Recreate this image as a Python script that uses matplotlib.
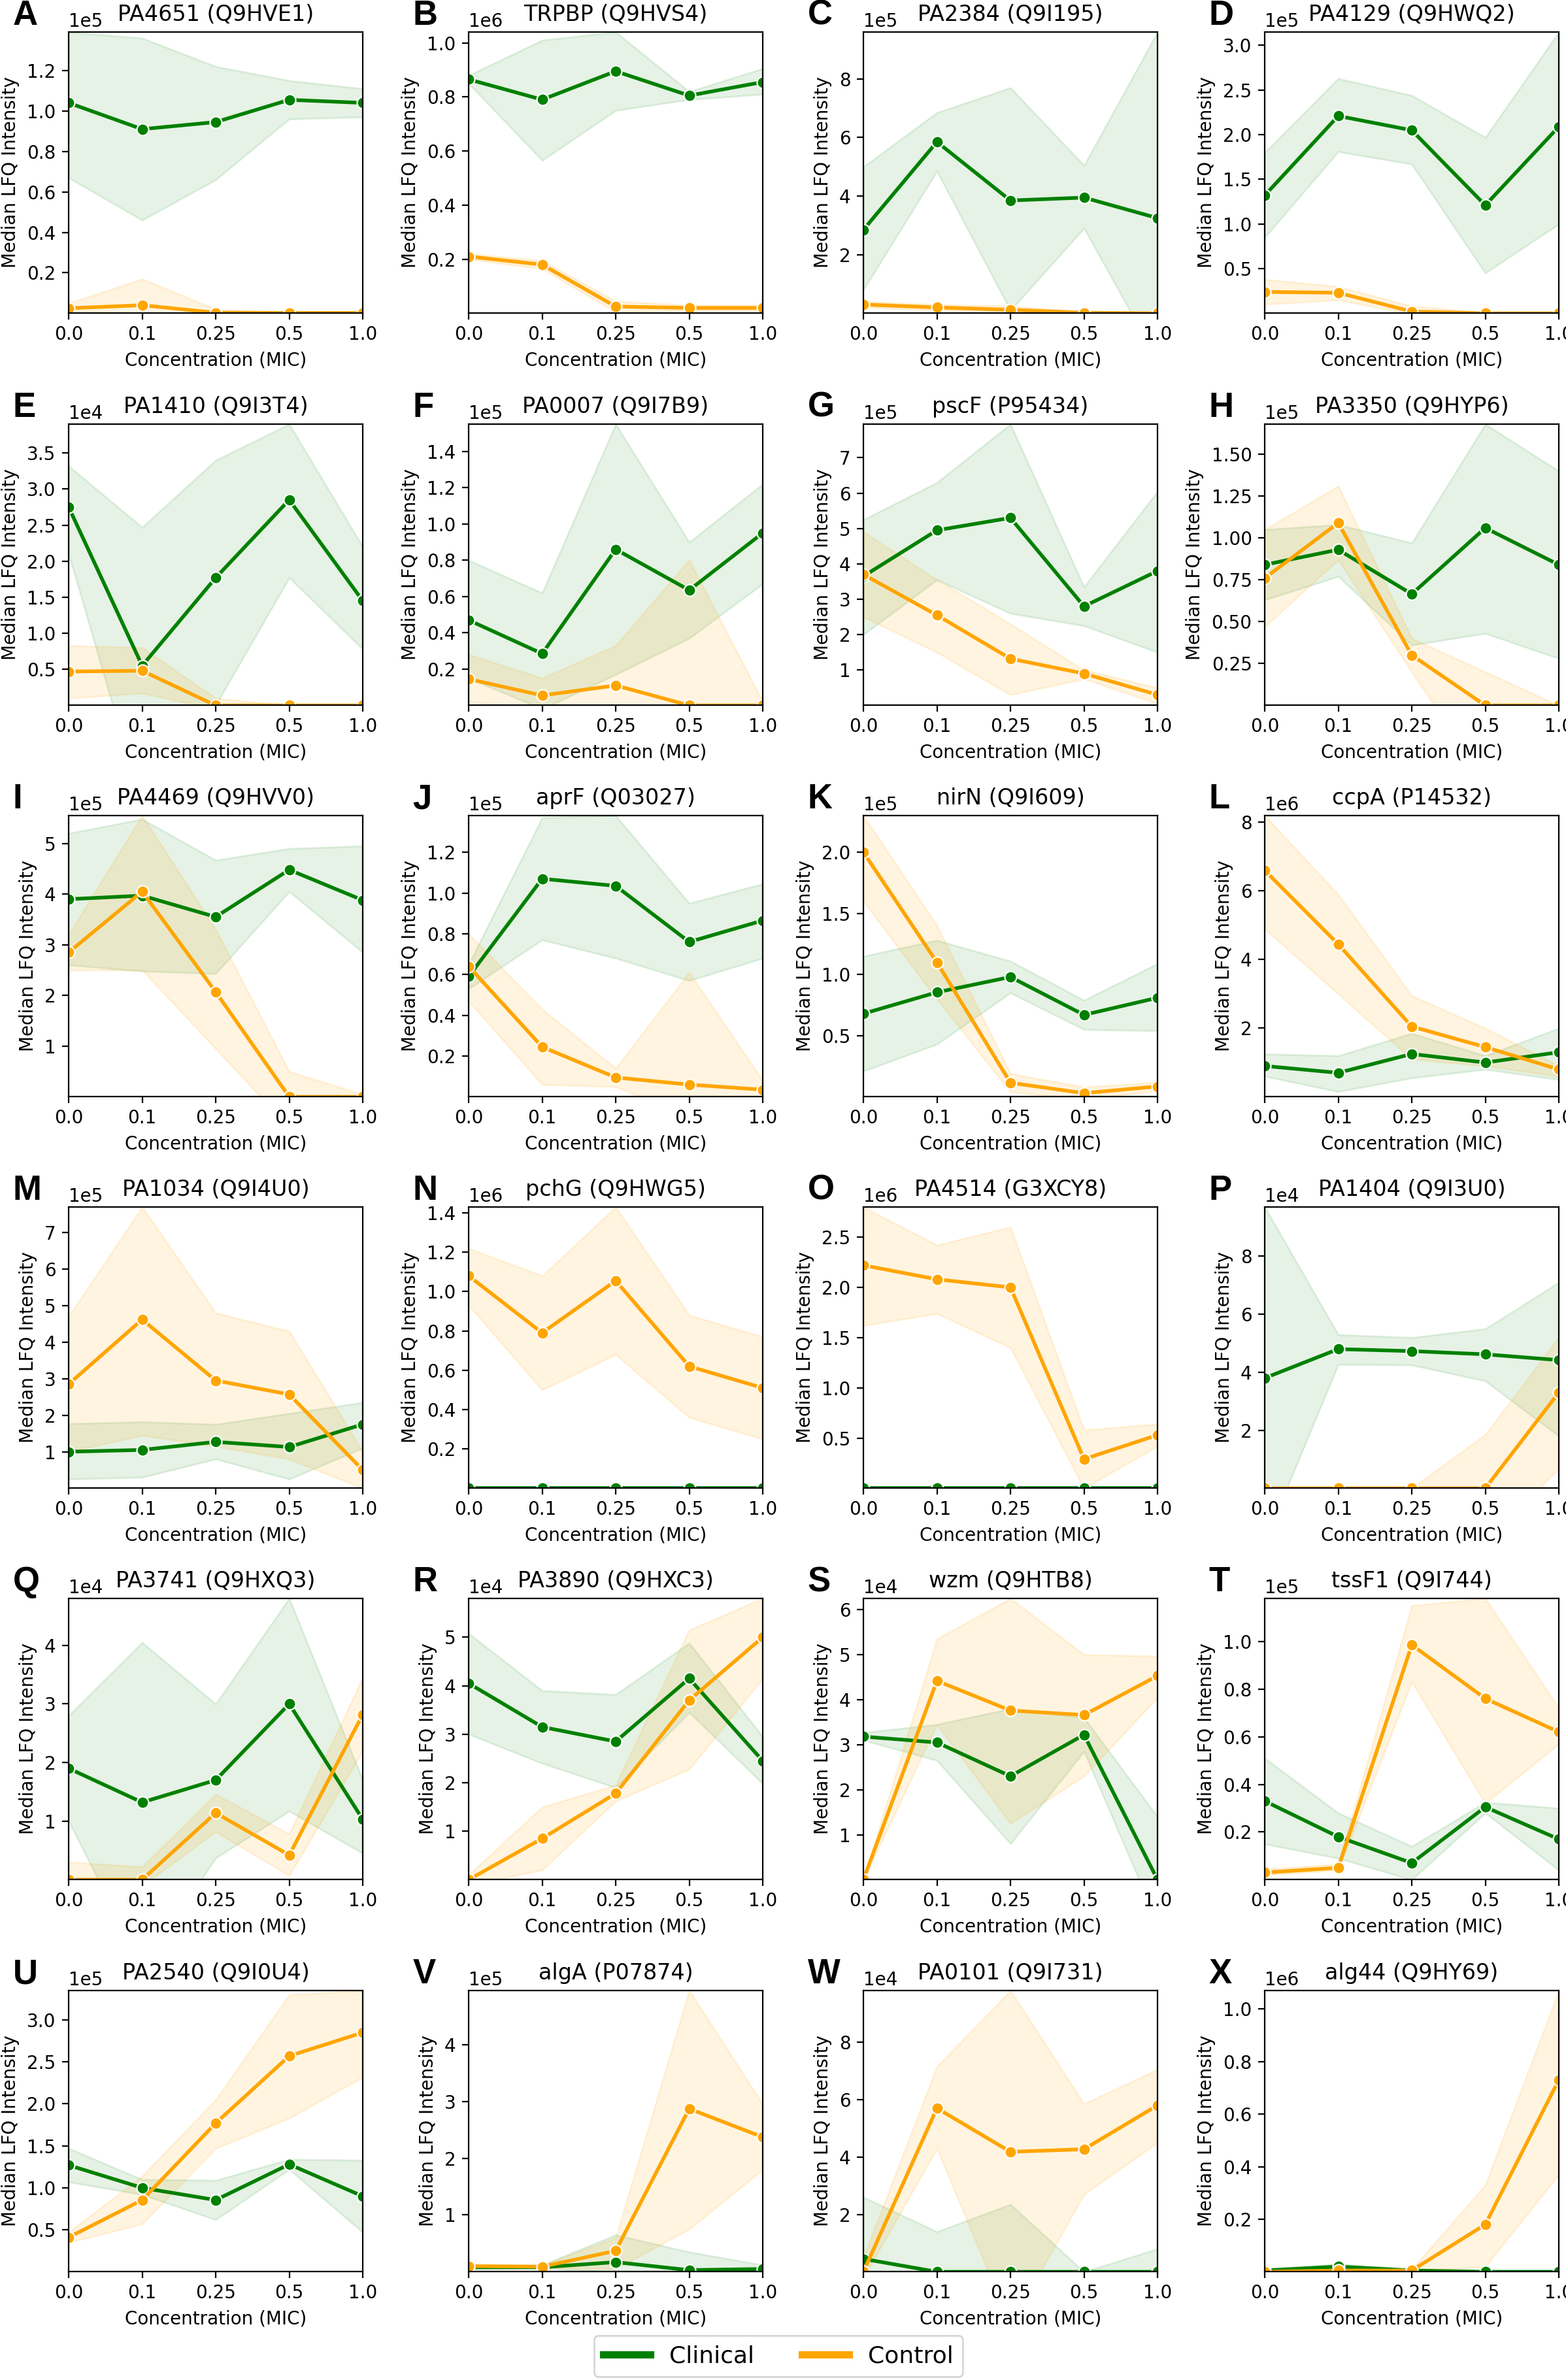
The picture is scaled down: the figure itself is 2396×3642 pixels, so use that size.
import numpy as np
import matplotlib
matplotlib.use("Agg")
import matplotlib.pyplot as plt
from matplotlib.lines import Line2D
from matplotlib.ticker import MaxNLocator

# x categories (plotted at equal spacing)
conc_labels = ["0.0", "0.1", "0.25", "0.5", "1.0"]

letters = list("ABCDEFGHIJKLMNOPQRSTUVWX")
titles = ["PA4651 (Q9HVE1)", "TRPBP (Q9HVS4)", "PA2384 (Q9I195)", "PA4129 (Q9HWQ2)",
          "PA1410 (Q9I3T4)", "PA0007 (Q9I7B9)", "pscF (P95434)", "PA3350 (Q9HYP6)",
          "PA4469 (Q9HVV0)", "aprF (Q03027)", "nirN (Q9I609)", "ccpA (P14532)",
          "PA1034 (Q9I4U0)", "pchG (Q9HWG5)", "PA4514 (G3XCY8)", "PA1404 (Q9I3U0)",
          "PA3741 (Q9HXQ3)", "PA3890 (Q9HXC3)", "wzm (Q9HTB8)", "tssF1 (Q9I744)",
          "PA2540 (Q9I0U4)", "algA (P07874)", "PA0101 (Q9I731)", "alg44 (Q9HY69)"]

# power of ten of each panel (values below are in these units)
exponents = [5, 6, 5, 5, 4, 5, 5, 5, 5, 5, 5, 6, 5, 6, 6, 4, 4, 4, 4, 5, 5, 5, 4, 6]

clin_mean = [
    [1.04, 0.91, 0.945, 1.055, 1.04],
    [0.865, 0.79, 0.895, 0.805, 0.855],
    [2.85, 5.85, 3.85, 3.95, 3.25],
    [1.32, 2.21, 2.05, 1.21, 2.09],
    [2.75, 0.55, 1.77, 2.85, 1.45],
    [0.47, 0.285, 0.86, 0.635, 0.95],
    [3.65, 4.95, 5.3, 2.8, 3.8],
    [0.84, 0.93, 0.665, 1.06, 0.84],
    [3.9, 3.97, 3.55, 4.48, 3.88],
    [0.59, 1.07, 1.035, 0.76, 0.865],
    [0.68, 0.855, 0.98, 0.67, 0.81],
    [0.9, 0.7, 1.25, 1.0, 1.3],
    [1.0, 1.05, 1.27, 1.13, 1.75],
    [0.003, 0.003, 0.003, 0.003, 0.003],
    [0.005, 0.005, 0.005, 0.005, 0.005],
    [3.8, 4.8, 4.73, 4.62, 4.42],
    [1.9, 1.32, 1.7, 3.0, 1.03],
    [4.05, 3.15, 2.85, 4.15, 2.45],
    [3.18, 3.05, 2.3, 3.22, 0.0],
    [0.33, 0.18, 0.07, 0.305, 0.17],
    [1.27, 1.0, 0.855, 1.28, 0.9],
    [0.08, 0.08, 0.17, 0.03, 0.05],
    [0.45, 0.0, 0.0, 0.0, 0.0],
    [0.005, 0.02, 0.005, 0.0, 0.0],
]
clin_lo = [
    [0.67, 0.46, 0.66, 0.96, 0.97],
    [0.85, 0.565, 0.75, 0.79, 0.81],
    [0.8, 4.85, 0.1, 2.9, -1.6],
    [0.85, 1.81, 1.67, 0.45, 1.0],
    [2.1, -1.4, 0.0, 1.77, 0.78],
    [0.15, -0.02, 0.17, 0.37, 0.67],
    [2.0, 3.55, 2.6, 2.25, 1.5],
    [0.63, 0.77, 0.36, 0.43, 0.28],
    [2.6, 2.48, 2.43, 4.05, 2.85],
    [0.53, 0.77, 0.68, 0.57, 0.68],
    [0.21, 0.43, 0.85, 0.55, 0.54],
    [0.6, 0.15, 0.55, 0.8, 0.5],
    [0.25, 0.3, 0.8, 0.25, 1.1],
    [0.0, 0.0, 0.0, 0.0, 0.0],
    [0.0, 0.0, 0.0, 0.0, 0.0],
    [-1.83, 4.27, 4.25, 3.7, 1.8],
    [1.0, -1.48, 0.37, 1.17, 0.45],
    [3.0, 2.4, 1.9, 3.45, 1.98],
    [3.1, 2.65, 0.8, 2.85, -0.95],
    [0.15, 0.09, 0.0, 0.28, 0.04],
    [1.07, 0.92, 0.62, 1.22, 0.47],
    [0.05, 0.06, 0.0, 0.0, 0.0],
    [-1.5, -0.1, -0.1, 0.0, 0.0],
    [0.0, 0.01, 0.0, 0.0, 0.0],
]
clin_hi = [
    [1.39, 1.36, 1.22, 1.15, 1.11],
    [0.88, 1.01, 1.04, 0.82, 0.905],
    [5.0, 6.85, 7.7, 5.05, 9.6],
    [1.8, 2.63, 2.44, 1.97, 3.15],
    [3.32, 2.47, 3.4, 3.9, 2.2],
    [0.80, 0.62, 1.55, 0.90, 1.22],
    [5.25, 6.3, 7.95, 3.35, 6.05],
    [1.05, 1.08, 0.97, 1.68, 1.40],
    [5.2, 5.48, 4.67, 4.9, 4.95],
    [0.65, 1.37, 1.38, 0.95, 1.045],
    [1.15, 1.28, 1.11, 0.79, 1.09],
    [1.25, 1.2, 1.85, 1.2, 2.0],
    [1.77, 1.82, 1.75, 2.05, 2.35],
    [0.006, 0.006, 0.006, 0.006, 0.006],
    [0.01, 0.01, 0.01, 0.01, 0.01],
    [9.7, 5.3, 5.2, 5.5, 7.1],
    [2.8, 4.05, 3.0, 4.8, 1.7],
    [5.08, 3.9, 3.82, 4.88, 2.95],
    [3.27, 3.45, 3.8, 3.6, 1.4],
    [0.51, 0.28, 0.14, 0.325, 0.30],
    [1.47, 1.1, 1.09, 1.34, 1.33],
    [0.12, 0.12, 0.65, 0.35, 0.12],
    [2.6, 1.4, 2.35, 0.0, 0.8],
    [0.01, 0.03, 0.01, 0.005, 0.005],
]
ctrl_mean = [
    [0.025, 0.04, 0.003, 0.002, 0.002],
    [0.21, 0.18, 0.025, 0.02, 0.02],
    [0.3, 0.2, 0.12, 0.02, 0.0],
    [0.24, 0.23, 0.02, 0.0, 0.0],
    [0.47, 0.48, 0.0, 0.0, 0.0],
    [0.145, 0.055, 0.11, 0.0, 0.0],
    [3.7, 2.55, 1.32, 0.9, 0.3],
    [0.76, 1.09, 0.30, 0.0, 0.0],
    [2.85, 4.05, 2.07, 0.0, 0.0],
    [0.64, 0.245, 0.095, 0.06, 0.035],
    [2.0, 1.1, 0.115, 0.03, 0.085],
    [6.6, 4.45, 2.05, 1.45, 0.8],
    [2.85, 4.62, 2.95, 2.57, 0.5],
    [1.08, 0.79, 1.055, 0.62, 0.51],
    [2.22, 2.08, 2.0, 0.29, 0.53],
    [0.0, 0.0, 0.0, 0.0, 3.3],
    [0.0, 0.0, 1.14, 0.42, 2.82],
    [0.0, 0.85, 1.78, 3.7, 5.0],
    [0.0, 4.42, 3.76, 3.66, 4.53],
    [0.03, 0.05, 0.985, 0.76, 0.62],
    [0.41, 0.855, 1.77, 2.57, 2.85],
    [0.1, 0.09, 0.37, 2.87, 2.37],
    [0.0, 5.7, 4.18, 4.27, 5.8],
    [0.0, 0.005, 0.005, 0.18, 0.73],
]
ctrl_lo = [
    [0.01, 0.0, -0.01, 0.0, 0.0],
    [0.2, 0.165, 0.005, 0.01, 0.01],
    [0.2, 0.1, 0.05, -0.02, -0.02],
    [0.1, 0.15, -0.01, -0.01, 0.0],
    [0.1, 0.17, -0.05, 0.0, 0.0],
    [0.02, -0.02, 0.0, -0.3, 0.0],
    [2.5, 1.5, 0.3, 0.75, 0.05],
    [0.47, 0.87, 0.2, -0.45, 0.0],
    [2.5, 2.5, 0.95, -0.6, 0.0],
    [0.47, 0.06, 0.05, -0.1, 0.0],
    [1.6, 0.8, 0.04, -0.02, 0.05],
    [4.9, 3.0, 1.1, 0.9, 0.6],
    [1.0, 1.45, 1.15, 0.8, 0.0],
    [0.93, 0.5, 0.68, 0.36, 0.25],
    [1.62, 1.74, 1.4, 0.0, 0.42],
    [0.0, 0.0, 0.0, -1.8, 0.67],
    [-0.1, -0.1, 0.82, 0.07, 2.2],
    [-0.1, 0.2, 1.62, 2.28, 4.15],
    [0.0, 3.45, 1.25, 2.3, 4.05],
    [0.02, 0.04, 0.83, 0.32, 0.57],
    [0.35, 0.57, 1.47, 1.83, 2.32],
    [0.07, 0.07, 0.05, 0.75, 1.8],
    [-0.2, 4.3, -1.84, 2.7, 4.5],
    [0.0, 0.0, 0.0, 0.02, 0.37],
]
ctrl_hi = [
    [0.05, 0.17, 0.02, 0.004, 0.004],
    [0.22, 0.195, 0.045, 0.03, 0.03],
    [0.4, 0.3, 0.25, 0.05, 0.02],
    [0.38, 0.3, 0.08, 0.01, 0.0],
    [0.83, 0.8, 0.1, 0.0, 0.0],
    [0.28, 0.15, 0.33, 0.80, 0.02],
    [4.9, 3.55, 2.3, 1.0, 0.5],
    [1.05, 1.31, 0.4, 0.2, 0.0],
    [3.2, 5.55, 3.3, 0.5, 0.05],
    [0.8, 0.43, 0.14, 0.61, 0.08],
    [2.3, 1.4, 0.19, 0.08, 0.12],
    [8.2, 5.9, 2.95, 2.0, 0.9],
    [4.7, 7.7, 4.8, 4.3, 1.0],
    [1.22, 1.08, 1.43, 0.88, 0.77],
    [2.8, 2.42, 2.6, 0.58, 0.64],
    [0.0, 0.0, 0.0, 1.85, 5.2],
    [0.3, 0.22, 1.46, 0.78, 3.45],
    [0.1, 1.5, 1.95, 5.15, 5.8],
    [0.0, 5.35, 6.25, 5.0, 4.97],
    [0.045, 0.065, 1.15, 1.18, 0.72],
    [0.47, 1.14, 2.05, 3.3, 3.35],
    [0.13, 0.11, 0.6, 4.95, 2.95],
    [0.5, 7.15, 9.8, 5.85, 7.05],
    [0.01, 0.01, 0.01, 0.33, 1.07],
]

CLIN = "green"
CTRL = "orange"

W, H = 2396, 3642
fig = plt.figure(figsize=(W / 200, H / 200), dpi=200)

col_left = [105, 717, 1321, 1935]
row_top = [49, 649, 1248, 1847, 2446, 3046]
ax_w, ax_h = 450, 430

x = np.arange(len(conc_labels))

for i in range(24):
    r, c = divmod(i, 4)
    ax = fig.add_axes([col_left[c] / W, 1 - (row_top[r] + ax_h) / H, ax_w / W, ax_h / H])
    s = 10.0 ** exponents[i]

    # clinical
    ax.plot(x, np.array(clin_mean[i]) * s, color=CLIN, lw=2, marker="o", ms=6.5,
            mec="white", mew=0.8)
    ax.fill_between(x, np.array(clin_lo[i]) * s, np.array(clin_hi[i]) * s,
                    color=CLIN, alpha=0.1)
    # control
    ax.plot(x, np.array(ctrl_mean[i]) * s, color=CTRL, lw=2, marker="o", ms=6.5,
            mec="white", mew=0.8)
    ax.fill_between(x, np.array(ctrl_lo[i]) * s, np.array(ctrl_hi[i]) * s,
                    color=CTRL, alpha=0.12)

    top = max(max(clin_hi[i]), max(ctrl_hi[i]), max(clin_mean[i]), max(ctrl_mean[i])) * s
    ax.set_xlim(0, 4)
    ax.set_ylim(top * 1e-3, top)
    ax.yaxis.set_major_locator(MaxNLocator(nbins=8, steps=[1, 2, 2.5, 5, 10]))
    ax.set_xticks(x)
    ax.set_xticklabels(conc_labels)
    ax.ticklabel_format(axis="y", style="sci", scilimits=(0, 0))
    ax.set_xlabel("Concentration (MIC)")
    ax.set_ylabel("Median LFQ Intensity")
    ax.set_title(titles[i])
    ax.text(-0.19, 1.0, letters[i], transform=ax.transAxes, fontsize=19,
            fontweight="bold", family="Liberation Sans", va="bottom", ha="left")

handles = [Line2D([0], [0], color=CLIN, lw=4), Line2D([0], [0], color=CTRL, lw=4)]
fig.legend(handles, ["Clinical", "Control"], loc="lower center", ncol=2,
           fontsize=13, bbox_to_anchor=(0.497, 0.0), borderaxespad=0.15,
           columnspacing=2.0)

fig.savefig("out.png", dpi=200)
